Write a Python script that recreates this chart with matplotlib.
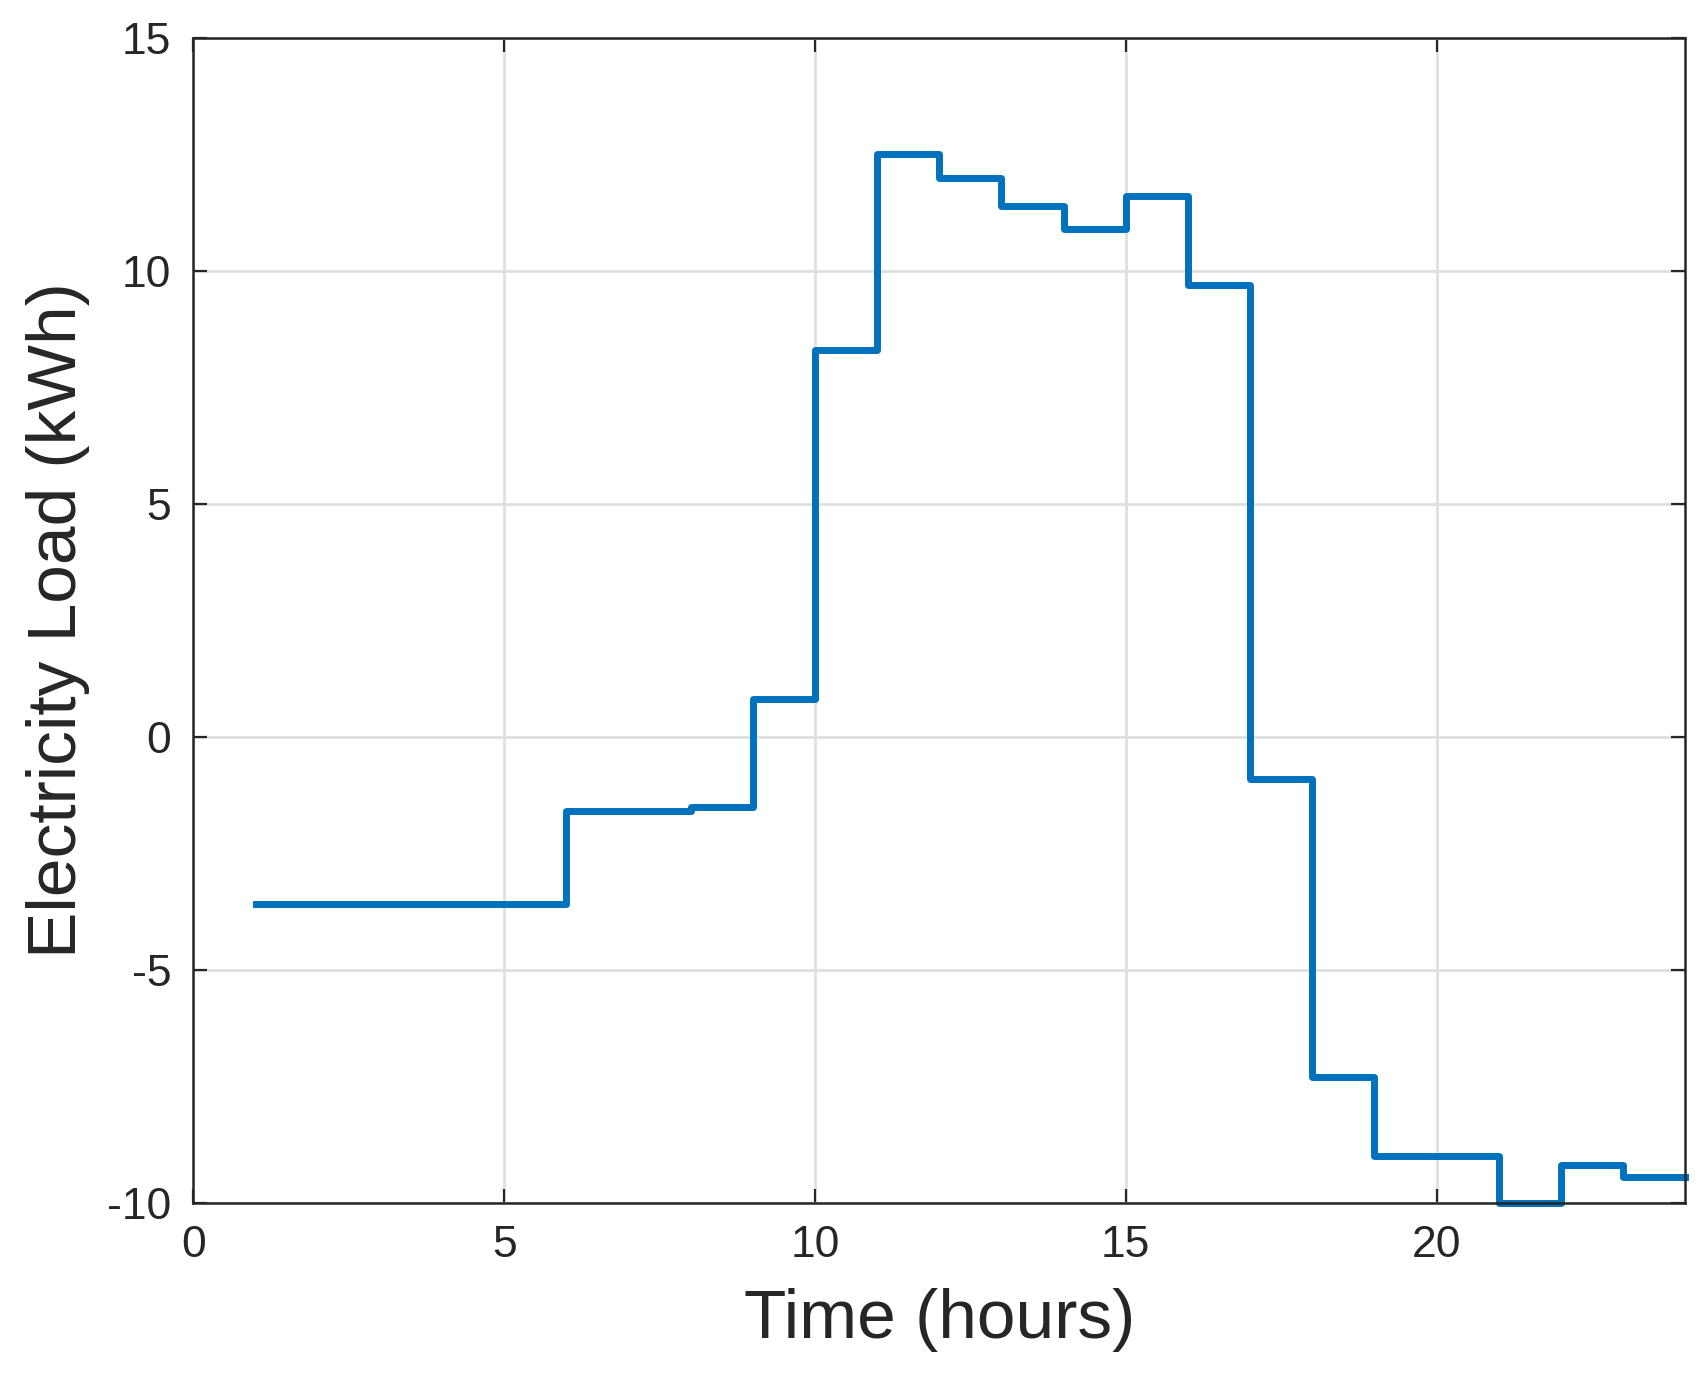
import matplotlib
matplotlib.use("Agg")
import matplotlib.pyplot as plt

hours = list(range(1, 25))
load = [-3.6, -3.6, -3.6, -3.6, -3.6, -1.6, -1.6, -1.5, 0.8, 8.3, 12.5, 12.0,
        11.4, 10.9, 11.6, 9.7, -0.9, -7.3, -9.0, -9.0, -10.0, -9.2, -9.45, -9.45]
x_ticks = [0, 5, 10, 15, 20]
y_ticks = [-10, -5, 0, 5, 10, 15]

plt.rcParams['font.family'] = ['Liberation Sans', 'DejaVu Sans']
fig = plt.figure(figsize=(8.52, 6.965), dpi=200)
ax = fig.add_axes([0.1135, 0.1367, 0.8755, 0.836])

ax.step(hours, load, where='post', color='#0072BD', linewidth=2.5, clip_on=False)
ax.set_xlim(0, 24)
ax.set_ylim(-10, 15)
ax.set_xticks(x_ticks)
ax.set_yticks(y_ticks)
ax.set_yticklabels([str(v) for v in y_ticks])
ax.grid(True, color='#dfdfdf', linewidth=1.0)
ax.set_axisbelow(True)
ax.tick_params(direction='in', labelsize=16, colors='#262626', length=5,
               top=True, right=True, pad=8)
for s in ax.spines.values():
    s.set_color('#262626')
    s.set_linewidth(0.9)
ax.set_xlabel('Time (hours)', fontsize=25, color='#262626', labelpad=8)
ax.set_ylabel('Electricity Load (kWh)', fontsize=25, color='#262626', labelpad=6)

fig.savefig('out.png', dpi=200)
